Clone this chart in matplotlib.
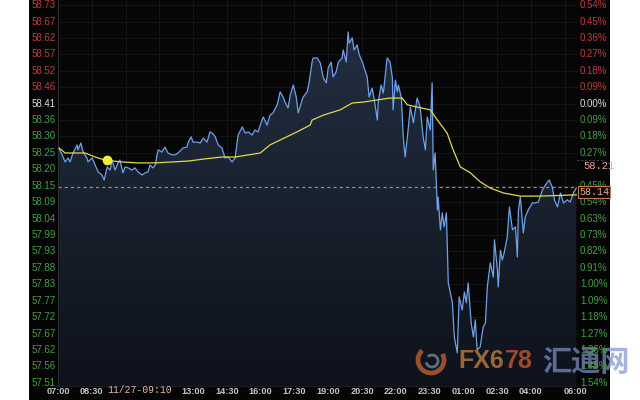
import numpy as np
import matplotlib
matplotlib.use("Agg")
import matplotlib.pyplot as plt
from matplotlib import transforms
from matplotlib.colors import LinearSegmentedColormap
from matplotlib.patches import Rectangle, PathPatch, Arc

#%% data (minutes after 07:00, price)
price_min = [3, 11, 19, 27, 32, 40, 51, 53, 61, 67,
             77, 80, 91, 99, 107, 117, 123, 131, 139, 144,
             152, 160, 165, 173, 179, 187, 197, 205, 213, 224,
             232, 240, 245, 253, 259, 264, 267, 277, 285, 293,
             304, 312, 320, 328, 333, 344, 347, 355, 360, 371,
             379, 387, 397, 405, 411, 419, 427, 437, 445, 453,
             464, 472, 480, 491, 499, 507, 517, 525, 533, 541,
             547, 557, 565, 573, 584, 592, 600, 605, 613, 619,
             627, 635, 640, 648, 653, 664, 669, 677, 680, 691,
             699, 707, 715, 720, 728, 733, 741, 747, 757, 760,
             768, 773, 776, 784, 789, 797, 803, 811, 816, 824,
             829, 837, 843, 851, 853, 861, 867, 872, 877, 885,
             891, 893, 899, 904, 907, 915, 920, 925, 931, 939,
             947, 957, 965, 973, 979, 984, 992, 997, 1000, 1005,
             1011, 1013, 1019, 1024, 1029, 1035, 1040, 1051, 1056, 1064,
             1069, 1077, 1083, 1088, 1093, 1101, 1107, 1112, 1117, 1125,
             1133, 1139, 1144, 1152, 1160, 1163, 1171, 1173, 1179, 1184,
             1189, 1197, 1203, 1211, 1219, 1224, 1227, 1232, 1240, 1245,
             1253, 1264, 1272, 1280, 1291, 1299, 1309, 1317, 1323, 1331,
             1339, 1347, 1357, 1365, 1373, 1381]
price = [58.264, 58.245, 58.222, 58.235, 58.222, 58.251, 58.277, 58.261, 58.283, 58.254,
         58.235, 58.222, 58.235, 58.212, 58.190, 58.180, 58.164, 58.206, 58.196, 58.228,
         58.196, 58.219, 58.228, 58.187, 58.206, 58.203, 58.196, 58.203, 58.190, 58.180,
         58.187, 58.190, 58.212, 58.203, 58.212, 58.245, 58.261, 58.254, 58.270, 58.251,
         58.245, 58.245, 58.251, 58.261, 58.267, 58.270, 58.286, 58.303, 58.286, 58.286,
         58.283, 58.299, 58.286, 58.319, 58.315, 58.303, 58.277, 58.267, 58.235, 58.238,
         58.222, 58.235, 58.309, 58.335, 58.315, 58.319, 58.309, 58.325, 58.319, 58.348,
         58.367, 58.341, 58.373, 58.380, 58.406, 58.448, 58.431, 58.415, 58.396, 58.438,
         58.470, 58.431, 58.380, 58.412, 58.431, 58.448, 58.477, 58.544, 58.557, 58.557,
         58.541, 58.493, 58.477, 58.525, 58.544, 58.496, 58.512, 58.544, 58.557, 58.583,
         58.544, 58.641, 58.605, 58.622, 58.583, 58.599, 58.567, 58.544, 58.525, 58.496,
         58.431, 58.460, 58.422, 58.357, 58.412, 58.470, 58.444, 58.502, 58.557, 58.544,
         58.493, 58.390, 58.486, 58.448, 58.470, 58.428, 58.303, 58.238, 58.303, 58.399,
         58.348, 58.428, 58.399, 58.303, 58.261, 58.367, 58.325, 58.477, 58.196, 58.251,
         58.067, 58.109, 58.003, 58.058, 58.013, 58.058, 57.832, 57.768, 57.658, 57.607,
         57.787, 57.745, 57.803, 57.768, 57.832, 57.703, 57.658, 57.713, 57.616, 57.626,
         57.690, 57.703, 57.819, 57.897, 57.851, 57.971, 57.874, 57.819, 57.938, 57.906,
         57.929, 57.980, 58.077, 58.003, 58.013, 57.916, 58.067, 58.109, 57.993, 58.045,
         58.067, 58.090, 58.090, 58.093, 58.132, 58.148, 58.164, 58.141, 58.100, 58.077,
         58.122, 58.090, 58.100, 58.093, 58.122, 58.138]

# average price line
avg_min = [3, 19, 45, 72, 99, 125, 171, 213, 259, 304,
           347, 392, 437, 472, 539, 565, 637, 672, 677, 707,
           752, 784, 813, 851, 885, 917, 931, 957, 992, 1011,
           1037, 1053, 1072, 1099, 1125, 1152, 1187, 1232, 1285, 1381]
avg_price = [58.267, 58.251, 58.251, 58.251, 58.238, 58.228, 58.222, 58.219, 58.219, 58.222,
             58.225, 58.232, 58.238, 58.238, 58.251, 58.277, 58.319, 58.341, 58.357, 58.373,
             58.390, 58.412, 58.415, 58.422, 58.428, 58.428, 58.406, 58.399, 58.390, 58.357,
             58.315, 58.261, 58.206, 58.187, 58.158, 58.138, 58.122, 58.112, 58.112, 58.116]

left_labels = ['58.73', '58.67', '58.62', '58.57', '58.52', '58.46', '58.41',
               '58.36', '58.30', '58.25', '58.20', '58.15', '58.09', '58.04',
               '57.99', '57.93', '57.88', '57.83', '57.77', '57.72', '57.67',
               '57.62', '57.56', '57.51']
# the 0.36% below zero sits under the 58.21 marker, so it is not shown
right_labels = ['0.54%', '0.45%', '0.36%', '0.27%', '0.18%', '0.09%', '0.00%',
                '0.09%', '0.18%', '0.27%', '', '0.45%', '0.54%', '0.63%',
                '0.73%', '0.82%', '0.91%', '1.00%', '1.09%', '1.18%', '1.27%',
                '1.36%', '1.45%', '1.54%']
x_labels = ['07:00', '08:30', '13:00', '14:30', '16:00', '17:30', '19:00',
            '20:30', '22:00', '23:30', '01:00', '02:30', '04:00', '06:00']

base_price = 58.41
tick_step = 0.05294
n_up = 6
last_price = 58.14
marker_price = 58.21
cursor_label = '11/27-09:10'
cursor_time = '09:10'


def to_min(s):
    h, m = s.split(':')
    v = int(h) * 60 + int(m) - 7 * 60
    return v + 1440 if v < 0 else v


#%% figure
W, H = 640, 400
fig = plt.figure(figsize=(6.4, 4.0), dpi=100)
fig.patch.set_facecolor('white')
fig.patches.append(Rectangle((29 / W, 0), (610 - 29) / W, 1, transform=fig.transFigure,
                             facecolor='#050505', edgecolor='none', zorder=-5))

ax = fig.add_axes([58 / W, 14 / H, (577 - 58) / W, 386 / H])
ax.set_facecolor('#060606')
ytop, ybot = 58.744, 57.500
ax.set_xlim(0, 1383)
ax.set_ylim(ybot, ytop)
ax.set_xticks([])
ax.set_yticks([])
for s in ['top', 'right']:
    ax.spines[s].set_visible(False)
ax.spines['left'].set_color('#2c2c2c')
ax.spines['bottom'].set_color('#1e1e1e')

tick_pos = [base_price + (n_up - k) * tick_step for k in range(len(left_labels))]
x_pos = [to_min(s) for s in x_labels]

# grid
for yp in tick_pos:
    ax.axhline(yp, color='#14181e', lw=0.6, zorder=0.5)
for k in range(0, 1383, 90):
    ax.axvline(k, color='#14181e', lw=0.6, zorder=0.5)

# gradient fill under the price
poly = ax.fill_between(price_min, price, ybot, facecolor='none', edgecolor='none')
clip = PathPatch(poly.get_paths()[0], transform=ax.transData, facecolor='none', edgecolor='none')
ax.add_patch(clip)
cmap = LinearSegmentedColormap.from_list('fill', ['#0e121b', '#19222f', '#243045'])
grad = np.linspace(0, 1, 256).reshape(-1, 1)
im = ax.imshow(grad, extent=[0, 1383, ybot, ytop], origin='lower', aspect='auto',
               cmap=cmap, zorder=1)
im.set_clip_path(clip)

ax.plot(price_min, price, color='#6fa0ea', lw=0.9, zorder=3)
ax.plot(avg_min, avg_price, color='#e2d84a', lw=0.9, zorder=4)
ax.axhline(last_price, color='#c0805c', lw=0.9, ls=(0, (2.5, 2.5)), zorder=2)

cx = to_min(cursor_time)
ax.plot(cx, np.interp(cx, avg_min, avg_price), 'o', color='#f4ec3c', ms=6, zorder=5)

#%% watermark (under the right-hand labels)
fig.patches.append(Arc((431 / W, 1 - 360 / H), 26 / W, 26 / H, theta1=120, theta2=400,
                       transform=fig.transFigure, edgecolor='#b25a32', lw=3.4,
                       alpha=0.85, zorder=7))
fig.patches.append(Arc((432 / W, 1 - 361 / H), 12 / W, 12 / H, theta1=200, theta2=480,
                       transform=fig.transFigure, edgecolor='#7c8498', lw=2.0,
                       alpha=0.8, zorder=7))
fig.text(458 / W, 1 - 361 / H, 'FX6', color='#a8703a', fontsize=18, fontweight='bold',
         family='Liberation Sans', ha='left', va='center', alpha=0.9, zorder=7)
fig.text(533 / W, 1 - 361 / H, '78', color='#b04e2e', fontsize=18, fontweight='bold',
         family='Liberation Sans', ha='right', va='center', alpha=0.9, zorder=7)
fig.text(542 / W, 1 - 362 / H, '汇通网', color='#7d93cc', fontsize=21, fontweight='bold',
         family=['Noto Sans CJK SC', 'DejaVu Sans'], ha='left', va='center', alpha=0.7,
         zorder=7)

#%% axis labels
ytr = transforms.blended_transform_factory(fig.transFigure, ax.transData)
for k, (yp, lt, rt) in enumerate(zip(tick_pos, left_labels, right_labels)):
    if k < n_up:
        c = '#c0393b'
    elif k == n_up:
        c = '#dcdcdc'
    else:
        c = '#3f9f3f'
    fig.text(32 / W, yp, lt, transform=ytr, color=c, fontsize=7, family='Liberation Sans',
             ha='left', va='center', zorder=8)
    if rt:
        fig.text(580 / W, yp, rt, transform=ytr, color=c, fontsize=7,
                 family='Liberation Sans', ha='left', va='center', zorder=8)

xtr = transforms.blended_transform_factory(ax.transData, fig.transFigure)
for xp, lab in zip(x_pos, x_labels):
    ax.text(xp, 1 - 392 / H, lab, transform=xtr, color='#c4c4c4', fontsize=6.6,
            fontweight='bold', family='Liberation Sans', ha='center', va='center',
            clip_on=False)
ax.text(cx, 1 - 390 / H, cursor_label, transform=xtr, color='#eab4a4', fontsize=7,
        family='Liberation Mono', ha='left', va='center', clip_on=False)

# right side price marks
fig.lines.append(plt.Line2D([577 / W, 605 / W], [marker_price + 0.018] * 2, transform=ytr,
                            color='#4a4a4a', lw=0.7, ls=(0, (2, 2)), zorder=8))
fig.text(583 / W, marker_price, f'{marker_price:.2f}', transform=ytr, color='#e8a890',
         fontsize=7.6, family='Liberation Mono', ha='left', va='center', zorder=9)
fig.text(579 / W, last_price - 0.016, f'{last_price:.2f}', transform=ytr, color='#e8a890',
         fontsize=7.2, family='Liberation Mono', ha='left', va='center', zorder=9,
         bbox=dict(facecolor='#0a0a0a', edgecolor='#c8784e', pad=0.8, lw=0.8))

fig.savefig('out.png', dpi=100, facecolor='white')
